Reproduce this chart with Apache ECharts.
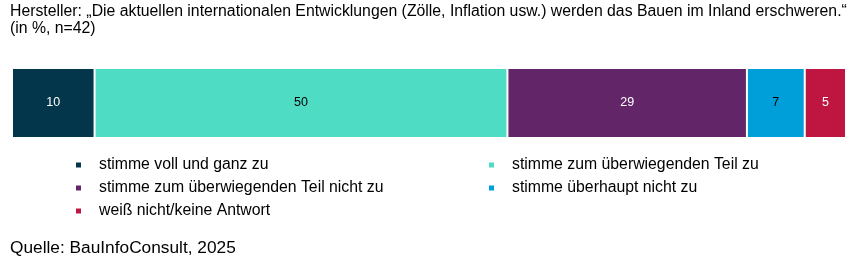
<!DOCTYPE html>
<html><head><meta charset="utf-8">
<script src="https://cdn.jsdelivr.net/npm/echarts@6/dist/echarts.min.js"></script>
<style>html,body{margin:0;padding:0;background:#fff}#c{width:867px;height:260px}</style>
</head><body><div id="c"></div>
<script>
const categories = ['Hersteller'];
const seriesNames = ['stimme voll und ganz zu','stimme zum überwiegenden Teil zu','stimme zum überwiegenden Teil nicht zu','stimme überhaupt nicht zu','weiß nicht/keine Antwort'];
const seriesValues = [10, 50, 29, 7, 5];
const seriesColors = ['#03354b','#4fdcc5','#622568','#009fd9','#be1641'];
const labelColors = ['#ffffff','#000000','#ffffff','#000000','#ffffff'];
const titleText = 'Hersteller: „Die aktuellen internationalen Entwicklungen (Zölle, Inflation usw.) werden das Bauen im Inland erschweren.“\n(in %, n=42)';
const sourceText = 'Quelle: BauInfoConsult, 2025';
const FONT = '"Liberation Sans", Arial, sans-serif';

const chart = echarts.init(document.getElementById('c'), null, {renderer:'canvas'});
const legendText = {fontFamily: FONT, fontSize: 15.8, color: '#000', lineHeight: 16, padding: [0,0,0,12]};
chart.setOption({
  animation: false,
  textStyle: {fontFamily: FONT},
  title: [{
    text: titleText, left: 10, top: 3, padding: 0,
    textStyle: {fontFamily: FONT, fontSize: 15.8, fontWeight: 'normal', color: '#000', lineHeight: 17}
  },{
    text: sourceText, left: 10, top: 240, padding: 0,
    textStyle: {fontFamily: FONT, fontSize: 17.3, fontWeight: 'normal', color: '#000'}
  }],
  legend: [{
    data: [seriesNames[0], seriesNames[2], seriesNames[4]],
    orient: 'vertical', left: 74, top: 157, padding: 0, itemWidth: 7, itemHeight: 7, itemGap: 7,
    icon: 'rect', textStyle: legendText, selectedMode: false
  },{
    data: [seriesNames[1], seriesNames[3]],
    orient: 'vertical', left: 487, top: 157, padding: 0, itemWidth: 7, itemHeight: 7, itemGap: 7,
    icon: 'rect', textStyle: legendText, selectedMode: false
  }],
  grid: {left: 12, right: 21, top: 68, height: 70, containLabel: false},
  xAxis: {type: 'value', min: 0, max: 101, show: false},
  yAxis: {type: 'category', data: categories, show: false},
  series: seriesNames.map((n, i) => ({
    name: n, type: 'bar', stack: 'a', barWidth: 70,
    data: [seriesValues[i]],
    itemStyle: {color: seriesColors[i], borderColor: '#ffffff', borderWidth: 1},
    label: {show: true, position: 'inside', fontFamily: FONT, fontSize: 12.5, color: labelColors[i]}
  }))
});
</script></body></html>
